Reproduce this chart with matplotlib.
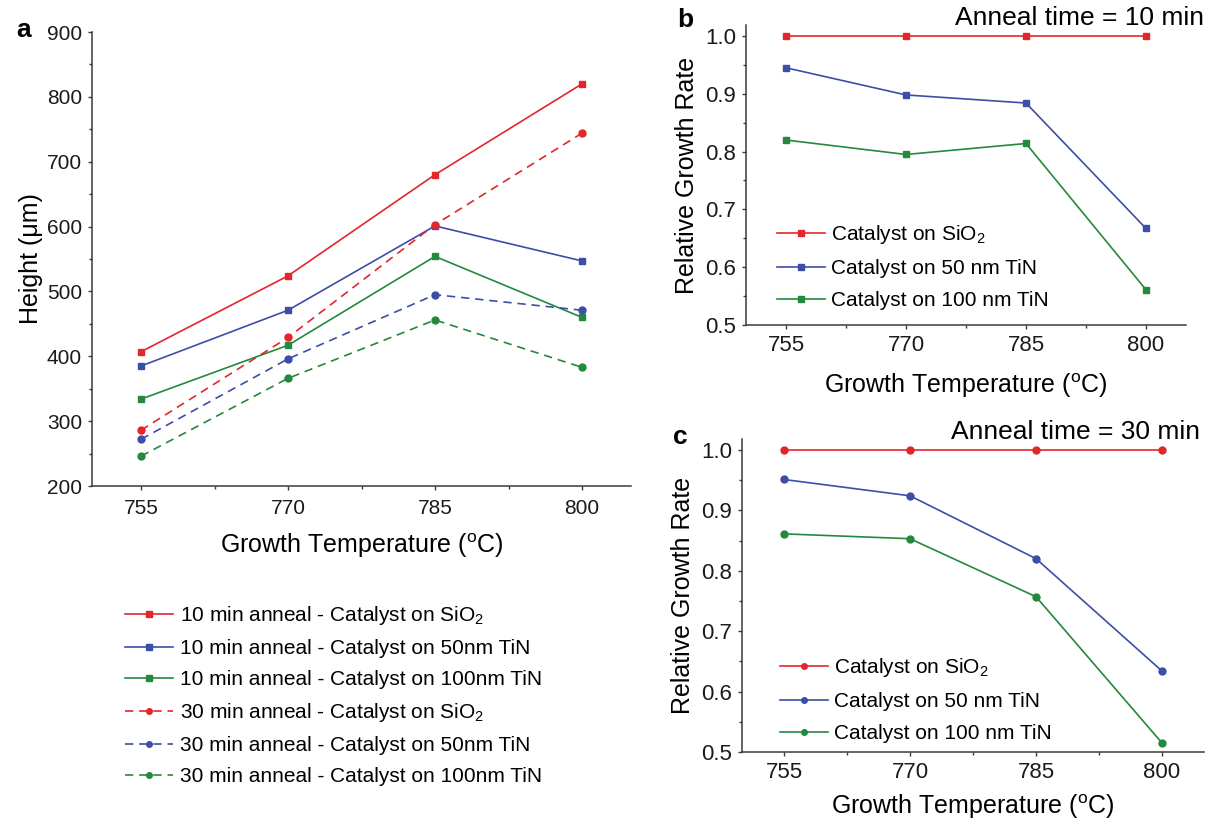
import numpy as np
import matplotlib
matplotlib.use('Agg')
import matplotlib.pyplot as plt
from matplotlib.ticker import MultipleLocator, FixedLocator

plt.rcParams['font.family'] = ['Liberation Sans', 'DejaVu Sans']
plt.rcParams['mathtext.fontset'] = 'custom'
plt.rcParams['mathtext.rm'] = 'Liberation Sans'
plt.rcParams['mathtext.it'] = 'Liberation Sans:italic'
plt.rcParams['mathtext.bf'] = 'Liberation Sans:bold'

# growth temperatures (C)
temps = [755, 770, 785, 800]

# panel a: CNT height (um)
h10_sio2 = [407, 524, 680, 820]
h10_tin50 = [385, 471, 601, 547]
h10_tin100 = [334, 417, 554, 460]
h30_sio2 = [286, 429, 603, 744]
h30_tin50 = [272, 396, 495, 471]
h30_tin100 = [246, 366, 456, 383]

# panel b: relative growth rate, 10 min anneal
rel10_sio2 = [1.0, 1.0, 1.0, 1.0]
rel10_tin50 = [0.945, 0.898, 0.884, 0.667]
rel10_tin100 = [0.820, 0.795, 0.814, 0.561]

# panel c: relative growth rate, 30 min anneal
rel30_sio2 = [1.0, 1.0, 1.0, 1.0]
rel30_tin50 = [0.951, 0.924, 0.820, 0.634]
rel30_tin100 = [0.861, 0.853, 0.757, 0.515]

labels_a = ['10 min anneal - Catalyst on SiO$_2$',
            '10 min anneal - Catalyst on 50nm TiN',
            '10 min anneal - Catalyst on 100nm TiN',
            '30 min anneal - Catalyst on SiO$_2$',
            '30 min anneal - Catalyst on 50nm TiN',
            '30 min anneal - Catalyst on 100nm TiN']
labels_bc = ['Catalyst on SiO$_2$', 'Catalyst on 50 nm TiN', 'Catalyst on 100 nm TiN']

red = '#e3262b'
blue = '#3c4ea6'
green = '#24893c'
axcol = '#3a3a3a'
xlab = 'Growth Temperature ($^{\\mathrm{o}}$C)'

W, H = 1215, 826
fig = plt.figure(figsize=(W/100, H/100), dpi=100)

def rect(l, r, t, b):
    return [l/W, 1-b/H, (r-l)/W, (b-t)/H]

def style(ax, fs):
    for s in ['top', 'right']:
        ax.spines[s].set_visible(False)
    for s in ['left', 'bottom']:
        ax.spines[s].set_color(axcol)
        ax.spines[s].set_linewidth(1.1)
    ax.set_xlim(750, 805)
    ax.xaxis.set_major_locator(FixedLocator(temps))
    ax.xaxis.set_minor_locator(FixedLocator([762.5, 777.5, 792.5]))
    ax.tick_params(which='both', direction='out', color=axcol, width=1.0, labelsize=fs, labelcolor='#1a1a1a')
    ax.tick_params(which='major', length=3.2, pad=4)
    ax.tick_params(which='minor', length=2)

lw = 1.2
ms = 5
dash = (0, (5, 3.5))

# ---- panel a
ax = fig.add_axes(rect(92, 631, 32, 486))
style(ax, 15)
ax.tick_params(axis='x', which='major', pad=6)
ax.plot(temps, h10_sio2, '-s', color=red, lw=lw, ms=ms, label=labels_a[0])
ax.plot(temps, h10_tin50, '-s', color=blue, lw=lw, ms=ms, label=labels_a[1])
ax.plot(temps, h10_tin100, '-s', color=green, lw=lw, ms=ms, label=labels_a[2])
ax.plot(temps, h30_sio2, 'o', ls=dash, color=red, lw=lw, ms=ms, label=labels_a[3])
ax.plot(temps, h30_tin50, 'o', ls=dash, color=blue, lw=lw, ms=ms, label=labels_a[4])
ax.plot(temps, h30_tin100, 'o', ls=dash, color=green, lw=lw, ms=ms, label=labels_a[5])
ax.set_ylim(200, 900)
ax.yaxis.set_major_locator(MultipleLocator(100))
ax.yaxis.set_minor_locator(MultipleLocator(50))
ax.set_xlabel(xlab, fontsize=18, labelpad=10)
ax.set_ylabel('Height (\u03bcm)', fontsize=18, labelpad=3)
ax.legend(loc='upper left', bbox_to_anchor=(125/W, 1-604/H), bbox_transform=fig.transFigure,
          frameon=False, fontsize=15, handlelength=2.3, handletextpad=0.35,
          labelspacing=0.58, borderpad=0, borderaxespad=0, markerscale=0.8)
fig.text(16/W, 1-30/H, 'a', fontsize=19, fontweight='bold', va='center')

# ---- panel b
ax = fig.add_axes(rect(746, 1186, 25, 325))
style(ax, 16)
ax.plot(temps, rel10_sio2, '-s', color=red, lw=lw, ms=ms, label=labels_bc[0])
ax.plot(temps, rel10_tin50, '-s', color=blue, lw=lw, ms=ms, label=labels_bc[1])
ax.plot(temps, rel10_tin100, '-s', color=green, lw=lw, ms=ms, label=labels_bc[2])
ax.set_ylim(0.5, 1.019)
ax.yaxis.set_major_locator(FixedLocator([0.5, 0.6, 0.7, 0.8, 0.9, 1.0]))
ax.yaxis.set_minor_locator(FixedLocator([0.55, 0.65, 0.75, 0.85, 0.95]))
ax.set_xlabel(xlab, fontsize=18, labelpad=11)
ax.set_ylabel('Relative Growth Rate', fontsize=18, labelpad=4)
ax.legend(loc='upper left', bbox_to_anchor=(777/W, 1-223/H), bbox_transform=fig.transFigure,
          frameon=False, fontsize=15, handlelength=2.3, handletextpad=0.3,
          labelspacing=0.62, borderpad=0, borderaxespad=0, markerscale=0.8)
fig.text(677/W, 1-20/H, 'b', fontsize=19, fontweight='bold', va='center')
fig.text(1204/W, 1-18/H, 'Anneal time = 10 min', fontsize=19, ha='right', va='center')

# ---- panel c
ax = fig.add_axes(rect(742, 1204, 439, 752))
style(ax, 16)
ax.plot(temps, rel30_sio2, '-o', color=red, lw=lw, ms=ms, label=labels_bc[0])
ax.plot(temps, rel30_tin50, '-o', color=blue, lw=lw, ms=ms, label=labels_bc[1])
ax.plot(temps, rel30_tin100, '-o', color=green, lw=lw, ms=ms, label=labels_bc[2])
ax.set_ylim(0.5, 1.018)
ax.yaxis.set_major_locator(FixedLocator([0.5, 0.6, 0.7, 0.8, 0.9, 1.0]))
ax.yaxis.set_minor_locator(FixedLocator([0.55, 0.65, 0.75, 0.85, 0.95]))
ax.set_xlabel(xlab, fontsize=18, labelpad=7)
ax.set_ylabel('Relative Growth Rate', fontsize=18, labelpad=4)
ax.legend(loc='upper left', bbox_to_anchor=(780/W, 1-656/H), bbox_transform=fig.transFigure,
          frameon=False, fontsize=15, handlelength=2.3, handletextpad=0.3,
          labelspacing=0.62, borderpad=0, borderaxespad=0, markerscale=0.8)
fig.text(673/W, 1-437/H, 'c', fontsize=19, fontweight='bold', va='center')
fig.text(1200/W, 1-432/H, 'Anneal time = 30 min', fontsize=19, ha='right', va='center')

fig.savefig('out.png', dpi=100)
